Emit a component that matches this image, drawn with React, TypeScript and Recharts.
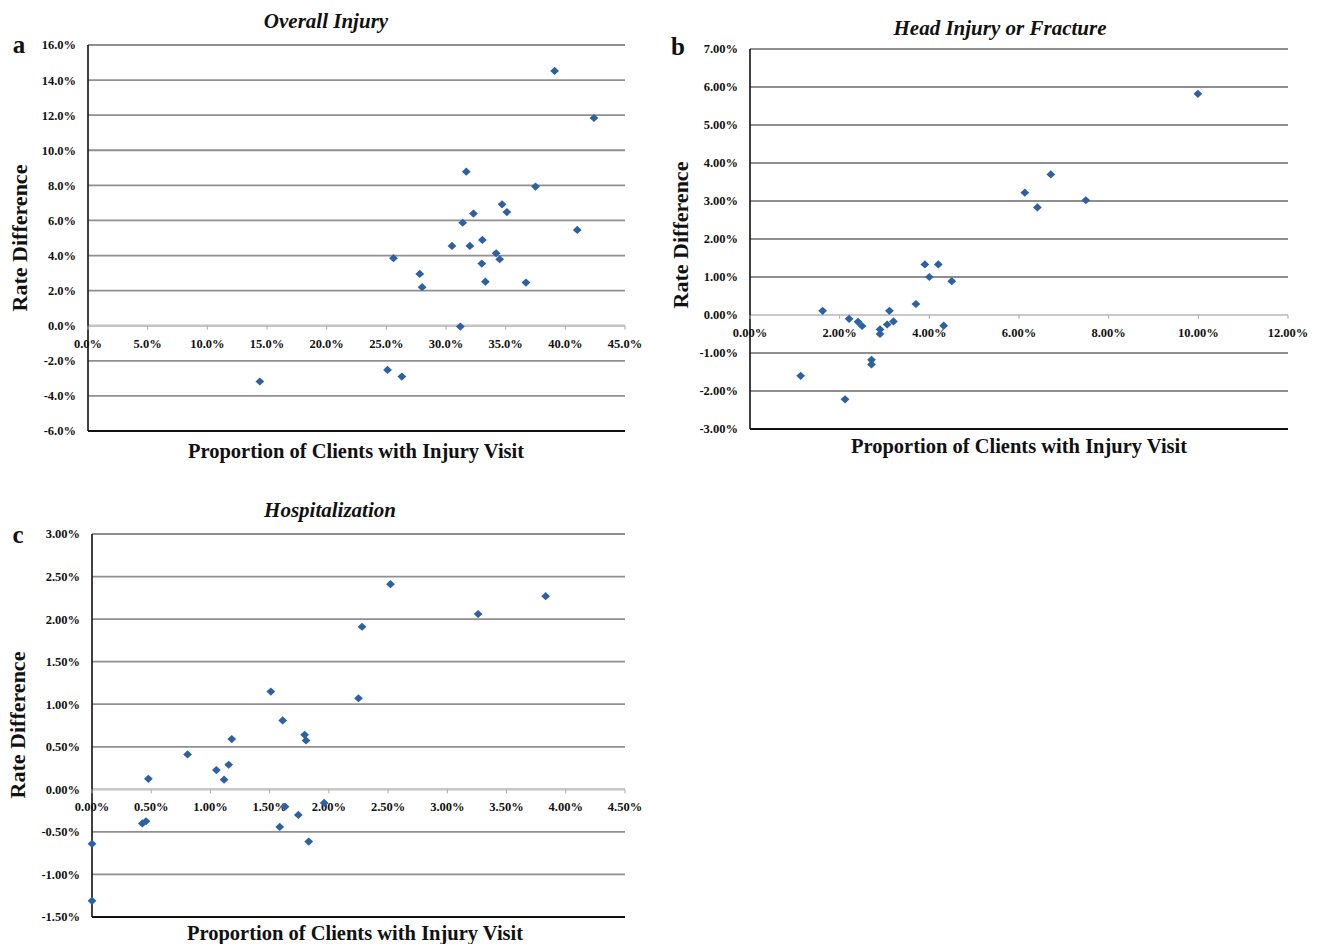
import React from "react";
import {
  ScatterChart,
  Scatter,
  XAxis,
  YAxis,
  CartesianGrid,
  ReferenceLine,
  ReferenceDot,
} from "recharts";

// ---- Data (percent values) ----
const overallX = [14.4, 25.1, 26.3, 25.6, 27.8, 28.0, 31.2, 30.5, 31.4, 31.7, 32.0, 32.3, 33.05, 33.0, 33.3, 34.2, 34.5, 34.7, 35.1, 36.7, 37.5, 39.1, 41.0, 42.4];
const overallY = [-3.18, -2.52, -2.9, 3.85, 2.95, 2.2, -0.05, 4.55, 5.87, 8.78, 4.55, 6.39, 4.89, 3.54, 2.51, 4.13, 3.79, 6.92, 6.48, 2.46, 7.93, 14.52, 5.46, 11.84];

const headX = [1.13, 1.62, 2.12, 2.21, 2.41, 2.5, 2.71, 2.71, 2.9, 2.9, 3.06, 3.11, 3.2, 3.7, 3.9, 4.0, 4.2, 4.32, 4.5, 6.13, 6.41, 6.71, 7.49, 9.99];
const headY = [-1.6, 0.11, -2.22, -0.1, -0.18, -0.29, -1.18, -1.3, -0.38, -0.5, -0.25, 0.11, -0.17, 0.29, 1.33, 1.0, 1.33, -0.28, 0.89, 3.22, 2.83, 3.7, 3.02, 5.82];

const hospX = [0, 0, 0.425, 0.456, 0.476, 0.807, 1.05, 1.115, 1.154, 1.18, 1.51, 1.61, 1.585, 1.63, 1.742, 1.795, 1.807, 1.83, 1.96, 2.25, 2.28, 2.52, 3.26, 3.83];
const hospY = [-0.64, -1.31, -0.4, -0.375, 0.124, 0.41, 0.226, 0.113, 0.289, 0.59, 1.149, 0.81, -0.442, -0.204, -0.301, 0.64, 0.574, -0.614, -0.16, 1.07, 1.91, 2.41, 2.06, 2.27];

const overallXTicks = [0, 5, 10, 15, 20, 25, 30, 35, 40, 45];
const overallYTicks = [-6, -4, -2, 0, 2, 4, 6, 8, 10, 12, 14, 16];
const headXTicks = [0, 2, 4, 6, 8, 10, 12];
const headYTicks = [-3, -2, -1, 0, 1, 2, 3, 4, 5, 6, 7];
const hospXTicks = [0, 0.5, 1, 1.5, 2, 2.5, 3, 3.5, 4, 4.5];
const hospYTicks = [-1.5, -1, -0.5, 0, 0.5, 1, 1.5, 2, 2.5, 3];

const titles = ["Overall Injury", "Head Injury or Fracture", "Hospitalization"];
const letters = ["a", "b", "c"];
const xTitle = "Proportion of Clients with Injury Visit";
const yTitle = "Rate Difference";

const SERIF = '"Liberation Serif", "Times New Roman", "DejaVu Serif", serif';
const BLUE = "#2c62a4";
const TICK_FS = 12.5;

const Diamond = (p: any) => {
  const { cx, cy } = p;
  if (cx == null || cy == null) return null;
  const w = 4.4;
  const h = 4.1;
  return (
    <polygon
      points={`${cx},${cy - h} ${cx + w},${cy} ${cx},${cy + h} ${cx - w},${cy}`}
      fill={BLUE}
    />
  );
};

type PanelProps = {
  xs: number[];
  ys: number[];
  xTicks: number[];
  yTicks: number[];
  digits: number;
  width: number;
  height: number;
  margin: { top: number; right: number; bottom: number; left: number };
};

const Panel = ({ xs, ys, xTicks, yTicks, digits, width, height, margin }: PanelProps) => {
  const data = xs.map((x, i) => ({ x, y: ys[i] }));
  const fmt = (v: number) => v.toFixed(digits) + "%";
  return (
    <ScatterChart width={width} height={height} margin={margin} style={{ overflow: "visible" }}>
      <CartesianGrid
        horizontal={true}
        vertical={false}
        stroke="#8f8f8f"
        strokeWidth={1.8}
      />
      <XAxis
        type="number"
        dataKey="x"
        domain={[xTicks[0], xTicks[xTicks.length - 1]]}
        ticks={xTicks}
        tick={false}
        tickLine={false}
        height={2}
        axisLine={{ stroke: "#111", strokeWidth: 2 }}
      />
      <YAxis
        type="number"
        dataKey="y"
        domain={[yTicks[0], yTicks[yTicks.length - 1]]}
        ticks={yTicks}
        interval={0}
        width={60}
        tickLine={false}
        tickSize={4}
        tickMargin={8}
        tickFormatter={fmt}
        tick={{ fill: "#111", fontSize: TICK_FS, fontWeight: 700, fontFamily: SERIF }}
        axisLine={{ stroke: "#111", strokeWidth: 1.6 }}
      />
      <ReferenceLine y={0} stroke="#c9c9c9" strokeWidth={1.8} ifOverflow="visible" />
      {xTicks.map((t) => (
        <ReferenceDot
          key={"xt" + t}
          x={t}
          y={0}
          r={1}
          ifOverflow="visible"
          shape={(p: any) => (
            <g>
              <line x1={p.cx} y1={p.cy} x2={p.cx} y2={p.cy + 4} stroke="#aaa" strokeWidth={1} />
              <text
                x={p.cx}
                y={p.cy + 22}
                textAnchor="middle"
                fontSize={TICK_FS}
                fontWeight={700}
                fontFamily={SERIF}
                fill="#111"
              >
                {fmt(t)}
              </text>
            </g>
          )}
        />
      ))}
      <Scatter data={data} shape={Diamond} isAnimationActive={false} />
    </ScatterChart>
  );
};

const T = (props: { x: number; y: number; text: string; size: number; italic?: boolean; rotate?: boolean }) => (
  <div
    style={{
      position: "absolute",
      left: props.x,
      top: props.y,
      transform: `translate(-50%, -50%)${props.rotate ? " rotate(-90deg)" : ""}`,
      fontFamily: SERIF,
      fontWeight: 700,
      fontStyle: props.italic ? "italic" : "normal",
      fontSize: props.size,
      whiteSpace: "nowrap",
      color: "#111",
      lineHeight: 1,
    }}
  >
    {props.text}
  </div>
);

export default function App() {
  return (
    <div
      style={{
        position: "absolute",
        left: 0,
        top: 0,
        width: 1320,
        height: 944,
        background: "#fff",
        overflow: "hidden",
      }}
    >
      <div style={{ position: "absolute", left: 0, top: 0 }}>
        <Panel
          xs={overallX}
          ys={overallY}
          xTicks={overallXTicks}
          yTicks={overallYTicks}
          digits={1}
          width={660}
          height={470}
          margin={{ top: 45, right: 35, bottom: 37, left: 28 }}
        />
      </div>
      <div style={{ position: "absolute", left: 660, top: 0 }}>
        <Panel
          xs={headX}
          ys={headY}
          xTicks={headXTicks}
          yTicks={headYTicks}
          digits={2}
          width={660}
          height={470}
          margin={{ top: 49, right: 32, bottom: 39, left: 30 }}
        />
      </div>
      <div style={{ position: "absolute", left: 0, top: 480 }}>
        <Panel
          xs={hospX}
          ys={hospY}
          xTicks={hospXTicks}
          yTicks={hospYTicks}
          digits={2}
          width={660}
          height={464}
          margin={{ top: 54, right: 35, bottom: 25, left: 32 }}
        />
      </div>

      <T x={326} y={21} text={titles[0]} size={21} italic />
      <T x={1000} y={28} text={titles[1]} size={21} italic />
      <T x={330} y={510} text={titles[2]} size={21} italic />

      <T x={19} y={44} text={letters[0]} size={25} />
      <T x={678} y={46} text={letters[1]} size={25} />
      <T x={18} y={534} text={letters[2]} size={25} />

      <T x={356} y={451} text={xTitle} size={20.5} />
      <T x={1019} y={446} text={xTitle} size={20.5} />
      <T x={355} y={933} text={xTitle} size={20.5} />

      <T x={20} y={238} text={yTitle} size={22} rotate />
      <T x={681} y={235} text={yTitle} size={22} rotate />
      <T x={18} y={725} text={yTitle} size={22} rotate />
    </div>
  );
}
